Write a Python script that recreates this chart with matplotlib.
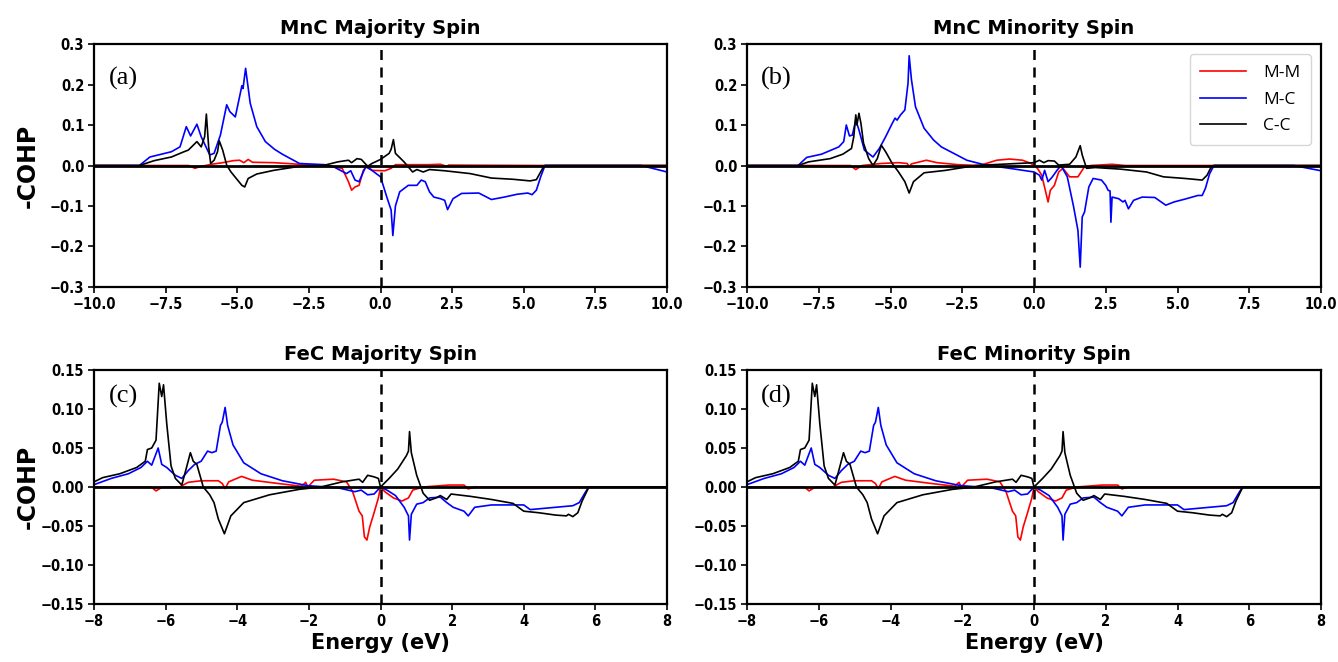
import numpy as np
import matplotlib
matplotlib.use("Agg")
import matplotlib.pyplot as plt

# --------------------------------------
# DATA (energy in eV, -COHP)
# --------------------------------------
mnc_maj_mm = [(-10, 0), (-6.7, 0), (-6.48, -0.007), (-6.26, -0.002), (-5.9, 0.003), (-5.51, 0.007),
              (-5.14, 0.012), (-4.92, 0.013), (-4.77, 0.007), (-4.62, 0.015), (-4.47, 0.008),
              (-3.73, 0.007), (-2.83, 0.003), (-1.94, 0), (-1.34, -0.007), (-1.12, -0.04),
              (-1.01, -0.061), (-0.89, -0.053), (-0.75, -0.049), (-0.6, -0.012), (-0.45, 0),
              (-0.3, -0.012), (0.15, -0.013), (0.37, -0.007), (0.52, 0.002), (1.64, 0.002),
              (2.09, 0.003), (2.31, -0.002), (2.38, 0.001), (5.74, 0), (10, 0)]
mnc_maj_mc = [(-10, 0), (-8.42, 0), (-8.05, 0.021), (-7.3, 0.034), (-7.0, 0.046), (-6.78, 0.096),
              (-6.63, 0.073), (-6.41, 0.102), (-6.26, 0.071), (-5.96, 0.026), (-5.81, 0.03),
              (-5.59, 0.075), (-5.37, 0.15), (-5.26, 0.133), (-5.07, 0.12), (-4.92, 0.17),
              (-4.84, 0.197), (-4.80, 0.19), (-4.71, 0.24), (-4.55, 0.154), (-4.32, 0.096),
              (-4.02, 0.059), (-3.7, 0.04), (-3.43, 0.028), (-2.83, 0.005), (-1.94, 0.002),
              (-1.64, -0.003), (-1.19, -0.02), (-1.04, -0.013), (-0.89, -0.036), (-0.75, -0.04),
              (-0.52, -0.003), (-0.30, -0.012), (0.0, -0.028), (0.22, -0.078), (0.37, -0.11),
              (0.43, -0.173), (0.52, -0.10), (0.67, -0.065), (0.97, -0.049), (1.27, -0.049),
              (1.42, -0.036), (1.56, -0.04), (1.71, -0.065), (1.86, -0.078), (2.09, -0.082),
              (2.24, -0.086), (2.34, -0.109), (2.53, -0.082), (2.83, -0.069), (3.43, -0.068),
              (3.87, -0.084), (4.32, -0.078), (4.77, -0.071), (5.14, -0.068), (5.29, -0.072),
              (5.44, -0.061), (5.59, -0.028), (5.74, 0), (9.1, 0), (10, -0.016)]
mnc_maj_cc = [(-10, 0), (-8.42, 0), (-7.9, 0.012), (-7.3, 0.021), (-6.86, 0.034), (-6.71, 0.038),
              (-6.41, 0.059), (-6.26, 0.046), (-6.14, 0.071), (-6.08, 0.127), (-6.0, 0.046),
              (-5.93, 0.005), (-5.81, 0.013), (-5.69, 0.034), (-5.63, 0.061), (-5.51, 0.038),
              (-5.37, 0.001), (-5.22, -0.016), (-4.99, -0.036), (-4.84, -0.049), (-4.74, -0.053),
              (-4.62, -0.032), (-4.32, -0.021), (-3.73, -0.012), (-2.83, -0.002), (-1.94, 0.001),
              (-1.49, 0.009), (-1.12, 0.013), (-1.01, 0.007), (-0.82, 0.017), (-0.67, 0.015),
              (-0.45, -0.002), (-0.3, 0.005), (0, 0.015), (0.3, 0.03), (0.37, 0.04), (0.45, 0.064),
              (0.52, 0.03), (0.82, 0.009), (1.12, -0.016), (1.27, -0.01), (1.49, -0.016),
              (1.71, -0.01), (2.24, -0.013), (3.13, -0.02), (3.87, -0.031), (4.62, -0.034),
              (5.22, -0.038), (5.44, -0.035), (5.66, -0.007), (5.74, 0), (10, 0)]

mnc_min_mm = [(-10, 0), (-6.4, 0), (-6.21, -0.01), (-5.99, 0), (-5.32, 0.005), (-4.72, 0.007),
              (-4.42, 0.005), (-4.35, -0.003), (-4.27, 0.004), (-3.75, 0.013), (-3.38, 0.007),
              (-2.64, 0.002), (-1.89, 0), (-1.3, 0.013), (-0.85, 0.016), (-0.4, 0.013),
              (-0.1, 0.005), (0.12, -0.007), (0.27, -0.024), (0.42, -0.069), (0.49, -0.09),
              (0.57, -0.061), (0.71, -0.049), (0.86, -0.016), (1.01, -0.007), (1.24, -0.028),
              (1.53, -0.028), (1.76, -0.003), (1.98, 0), (2.72, 0.003), (3.17, 0), (6.27, 0), (10, 0)]
mnc_min_mc = [(-10, 0), (-8.22, 0), (-7.92, 0.02), (-7.4, 0.028), (-6.8, 0.046), (-6.63, 0.059),
              (-6.54, 0.1), (-6.43, 0.073), (-6.33, 0.075), (-6.21, 0.112), (-6.1, 0.088),
              (-5.91, 0.038), (-5.61, 0.021), (-5.39, 0.042), (-5.17, 0.071), (-4.94, 0.104),
              (-4.84, 0.117), (-4.77, 0.112), (-4.65, 0.125), (-4.5, 0.137), (-4.39, 0.203),
              (-4.35, 0.271), (-4.27, 0.212), (-4.13, 0.145), (-3.83, 0.092), (-3.5, 0.063),
              (-3.23, 0.046), (-2.34, 0.013), (-1.74, 0.002), (-0.85, -0.007), (0, -0.016),
              (0.19, -0.024), (0.27, -0.036), (0.37, -0.012), (0.49, -0.04), (0.64, -0.028),
              (0.79, -0.013), (0.94, 0), (1.16, -0.028), (1.38, -0.102), (1.53, -0.16),
              (1.61, -0.251), (1.68, -0.127), (1.76, -0.115), (1.91, -0.053), (2.06, -0.032),
              (2.35, -0.036), (2.5, -0.049), (2.58, -0.061), (2.65, -0.063), (2.68, -0.14),
              (2.72, -0.078), (2.95, -0.082), (3.1, -0.09), (3.17, -0.086), (3.29, -0.107),
              (3.47, -0.086), (3.77, -0.078), (4.21, -0.079), (4.59, -0.098), (4.88, -0.09),
              (5.26, -0.083), (5.71, -0.074), (5.86, -0.074), (5.97, -0.057), (6.12, -0.02),
              (6.27, 0), (9.05, 0), (10, -0.013)]
mnc_min_cc = [(-10, 0), (-8.22, 0), (-7.85, 0.009), (-7.1, 0.017), (-6.66, 0.028), (-6.36, 0.042),
              (-6.28, 0.071), (-6.21, 0.125), (-6.17, 0.1), (-6.1, 0.129), (-6.03, 0.104),
              (-5.94, 0.055), (-5.76, 0.017), (-5.61, 0), (-5.46, 0.017), (-5.32, 0.05),
              (-5.17, 0.034), (-4.94, 0.005), (-4.72, -0.016), (-4.5, -0.04), (-4.35, -0.068),
              (-4.2, -0.04), (-3.83, -0.018), (-3.08, -0.012), (-2.04, 0), (-1.15, 0.003),
              (0, 0.007), (0.19, 0.013), (0.34, 0.007), (0.49, 0.012), (0.71, 0.011), (0.86, 0.001),
              (1.24, 0.003), (1.46, 0.021), (1.61, 0.049), (1.68, 0.026), (1.83, -0.007),
              (2.13, -0.005), (3.02, -0.009), (3.92, -0.016), (4.51, -0.028), (5.26, -0.032),
              (5.86, -0.036), (6.03, -0.024), (6.15, -0.007), (6.27, 0), (10, 0)]

# FeC majority and minority spin channels are identical in the source figure
fec_mm = [(-8, 0), (-6.4, 0), (-6.27, -0.005), (-6.09, 0), (-5.61, 0), (-5.37, 0.006), (-5.01, 0.008),
          (-4.53, 0.008), (-4.42, 0.0045), (-4.34, -0.002), (-4.24, 0.0066), (-3.88, 0.0136),
          (-3.58, 0.0087), (-2.86, 0.0045), (-2.21, 0.001), (-2.09, 0.006), (-2.03, 0),
          (-1.85, 0.0087), (-1.31, 0.01), (-0.95, 0.0066), (-0.78, -0.006), (-0.6, -0.031),
          (-0.51, -0.037), (-0.45, -0.064), (-0.38, -0.068), (-0.3, -0.051), (-0.18, -0.033),
          (-0.06, -0.014), (0, 0), (0.12, -0.006), (0.36, -0.014), (0.6, -0.018), (0.78, -0.014),
          (0.9, -0.004), (1.19, 0), (1.91, 0.0025), (2.33, 0.0025), (2.45, -0.0025), (2.63, 0),
          (5.82, 0), (8, 0)]
fec_mc = [(-8.0, 0.003), (-7.52, 0.011), (-7.04, 0.017), (-6.69, 0.025), (-6.51, 0.033),
          (-6.39, 0.028), (-6.21, 0.05), (-6.11, 0.029), (-5.97, 0.025), (-5.73, 0.015),
          (-5.55, 0.011), (-5.37, 0.021), (-5.19, 0.029), (-5.01, 0.033), (-4.83, 0.046),
          (-4.71, 0.044), (-4.59, 0.046), (-4.47, 0.079), (-4.42, 0.083), (-4.34, 0.102),
          (-4.27, 0.079), (-4.12, 0.054), (-3.82, 0.031), (-3.34, 0.017), (-2.74, 0.008),
          (-2.03, 0.0017), (-1.19, -0.001), (-0.72, -0.006), (-0.54, -0.004), (-0.36, -0.01),
          (-0.18, -0.009), (0, 0), (0.18, -0.004), (0.42, -0.011), (0.66, -0.026), (0.78, -0.037),
          (0.81, -0.068), (0.86, -0.035), (1.01, -0.022), (1.19, -0.02), (1.37, -0.014),
          (1.67, -0.013), (1.85, -0.02), (2.03, -0.026), (2.33, -0.031), (2.45, -0.037),
          (2.63, -0.026), (3.1, -0.023), (4.0, -0.023), (4.18, -0.029), (4.89, -0.026),
          (5.37, -0.024), (5.55, -0.02), (5.73, -0.006), (5.82, 0), (8, 0)]
fec_cc = [(-8.0, 0.0066), (-7.76, 0.012), (-7.28, 0.017), (-6.81, 0.025), (-6.57, 0.033),
          (-6.51, 0.048), (-6.39, 0.05), (-6.27, 0.06), (-6.18, 0.133), (-6.11, 0.116),
          (-6.06, 0.131), (-5.97, 0.081), (-5.85, 0.027), (-5.73, 0.011), (-5.55, 0.0025),
          (-5.43, 0.023), (-5.31, 0.044), (-5.23, 0.033), (-5.13, 0.029), (-4.95, 0),
          (-4.77, -0.01), (-4.65, -0.02), (-4.53, -0.041), (-4.44, -0.051), (-4.36, -0.06),
          (-4.18, -0.037), (-3.82, -0.02), (-3.1, -0.01), (-2.27, -0.003), (-1.67, 0),
          (-1.07, 0.0066), (-0.6, 0.01), (-0.5, 0.006), (-0.36, 0.015), (-0.18, 0.013),
          (-0.06, 0.011), (0, 0), (0.24, 0.011), (0.48, 0.023), (0.72, 0.04), (0.78, 0.046),
          (0.81, 0.071), (0.86, 0.044), (1.01, 0.015), (1.19, -0.008), (1.37, -0.017),
          (1.55, -0.014), (1.67, -0.011), (1.85, -0.016), (1.97, -0.009), (2.51, -0.012),
          (3.1, -0.016), (3.7, -0.021), (4.0, -0.031), (4.42, -0.033), (4.89, -0.036),
          (5.19, -0.037), (5.25, -0.035), (5.37, -0.038), (5.51, -0.033), (5.63, -0.018),
          (5.82, 0), (8, 0)]

titles = ["MnC Majority Spin", "MnC Minority Spin", "FeC Majority Spin", "FeC Minority Spin"]
tags = ["(a)", "(b)", "(c)", "(d)"]
bond_labels = ["M-M", "M-C", "C-C"]
bond_colors = ["red", "blue", "black"]

panels = [
    (mnc_maj_mm, mnc_maj_mc, mnc_maj_cc),
    (mnc_min_mm, mnc_min_mc, mnc_min_cc),
    (fec_mm, fec_mc, fec_cc),
    (fec_mm, fec_mc, fec_cc),
]


def minus(s):
    return s.replace("-", "\u2212")


fig = plt.figure(figsize=(13.38, 6.62), dpi=100)
# axes rectangles [left, bottom, width, height] in figure fractions
rects = [
    [0.0703, 0.5665, 0.4282, 0.367],
    [0.5583, 0.5665, 0.4290, 0.367],
    [0.0703, 0.0876, 0.4282, 0.3535],
    [0.5583, 0.0876, 0.4290, 0.3535],
]

for i, (rect, series) in enumerate(zip(rects, panels)):
    ax = fig.add_axes(rect)
    for data, lab, col in zip(series, bond_labels, bond_colors):
        e, v = np.array(data).T
        ax.plot(e, v, color=col, lw=1.2, label=lab)
    ax.axhline(0, color="black", lw=2, zorder=5)
    ax.axvline(0, color="black", lw=1.8, ls=(0, (4, 3)), zorder=5)

    if i < 2:
        ax.set_xlim(-10, 10)
        ax.set_ylim(-0.3, 0.3)
        xt = np.arange(-10, 10.1, 2.5)
        yt = np.round(np.arange(-0.3, 0.31, 0.1), 2)
        ax.set_xticks(xt, [minus(f"{t:.1f}") for t in xt])
        ax.set_yticks(yt, [minus(f"{t:.1f}") if t != 0 else "0.0" for t in yt])
        tag_y = 0.86
    else:
        ax.set_xlim(-8, 8)
        ax.set_ylim(-0.15, 0.15)
        xt = np.arange(-8, 8.1, 2)
        yt = np.round(np.arange(-0.15, 0.151, 0.05), 3)
        ax.set_xticks(xt, [minus(f"{t:.0f}") for t in xt])
        ax.set_yticks(yt, [minus(f"{t:.2f}") if t != 0 else "0.00" for t in yt])
        ax.set_xlabel("Energy (eV)", fontsize=15, fontweight="bold", labelpad=3)
        tag_y = 0.885

    for lbl in ax.get_xticklabels() + ax.get_yticklabels():
        lbl.set_family("DejaVu Sans")
        lbl.set_stretch("condensed")
        lbl.set_fontweight("bold")
        lbl.set_fontsize(10.5)
    ax.tick_params(direction="out", length=4, width=1.2, pad=3)
    for sp in ax.spines.values():
        sp.set_linewidth(1.6)

    ax.set_title(titles[i], fontsize=14, fontweight="bold", pad=7)
    ax.text(0.025, tag_y, tags[i], transform=ax.transAxes, ha="left", va="center",
            fontsize=19, family="Liberation Serif")
    if i % 2 == 0:
        ax.set_ylabel("-COHP", fontsize=17, fontweight="bold")
        ax.yaxis.set_label_coords(-0.095, 0.5)
    if i == 1:
        ax.legend(loc="upper right", handlelength=2.6, borderpad=0.6,
                  labelspacing=0.6, handletextpad=1.0, borderaxespad=0.6,
                  prop={"family": "Open Sans", "size": 12.5})

fig.savefig("out.png", dpi=100)
